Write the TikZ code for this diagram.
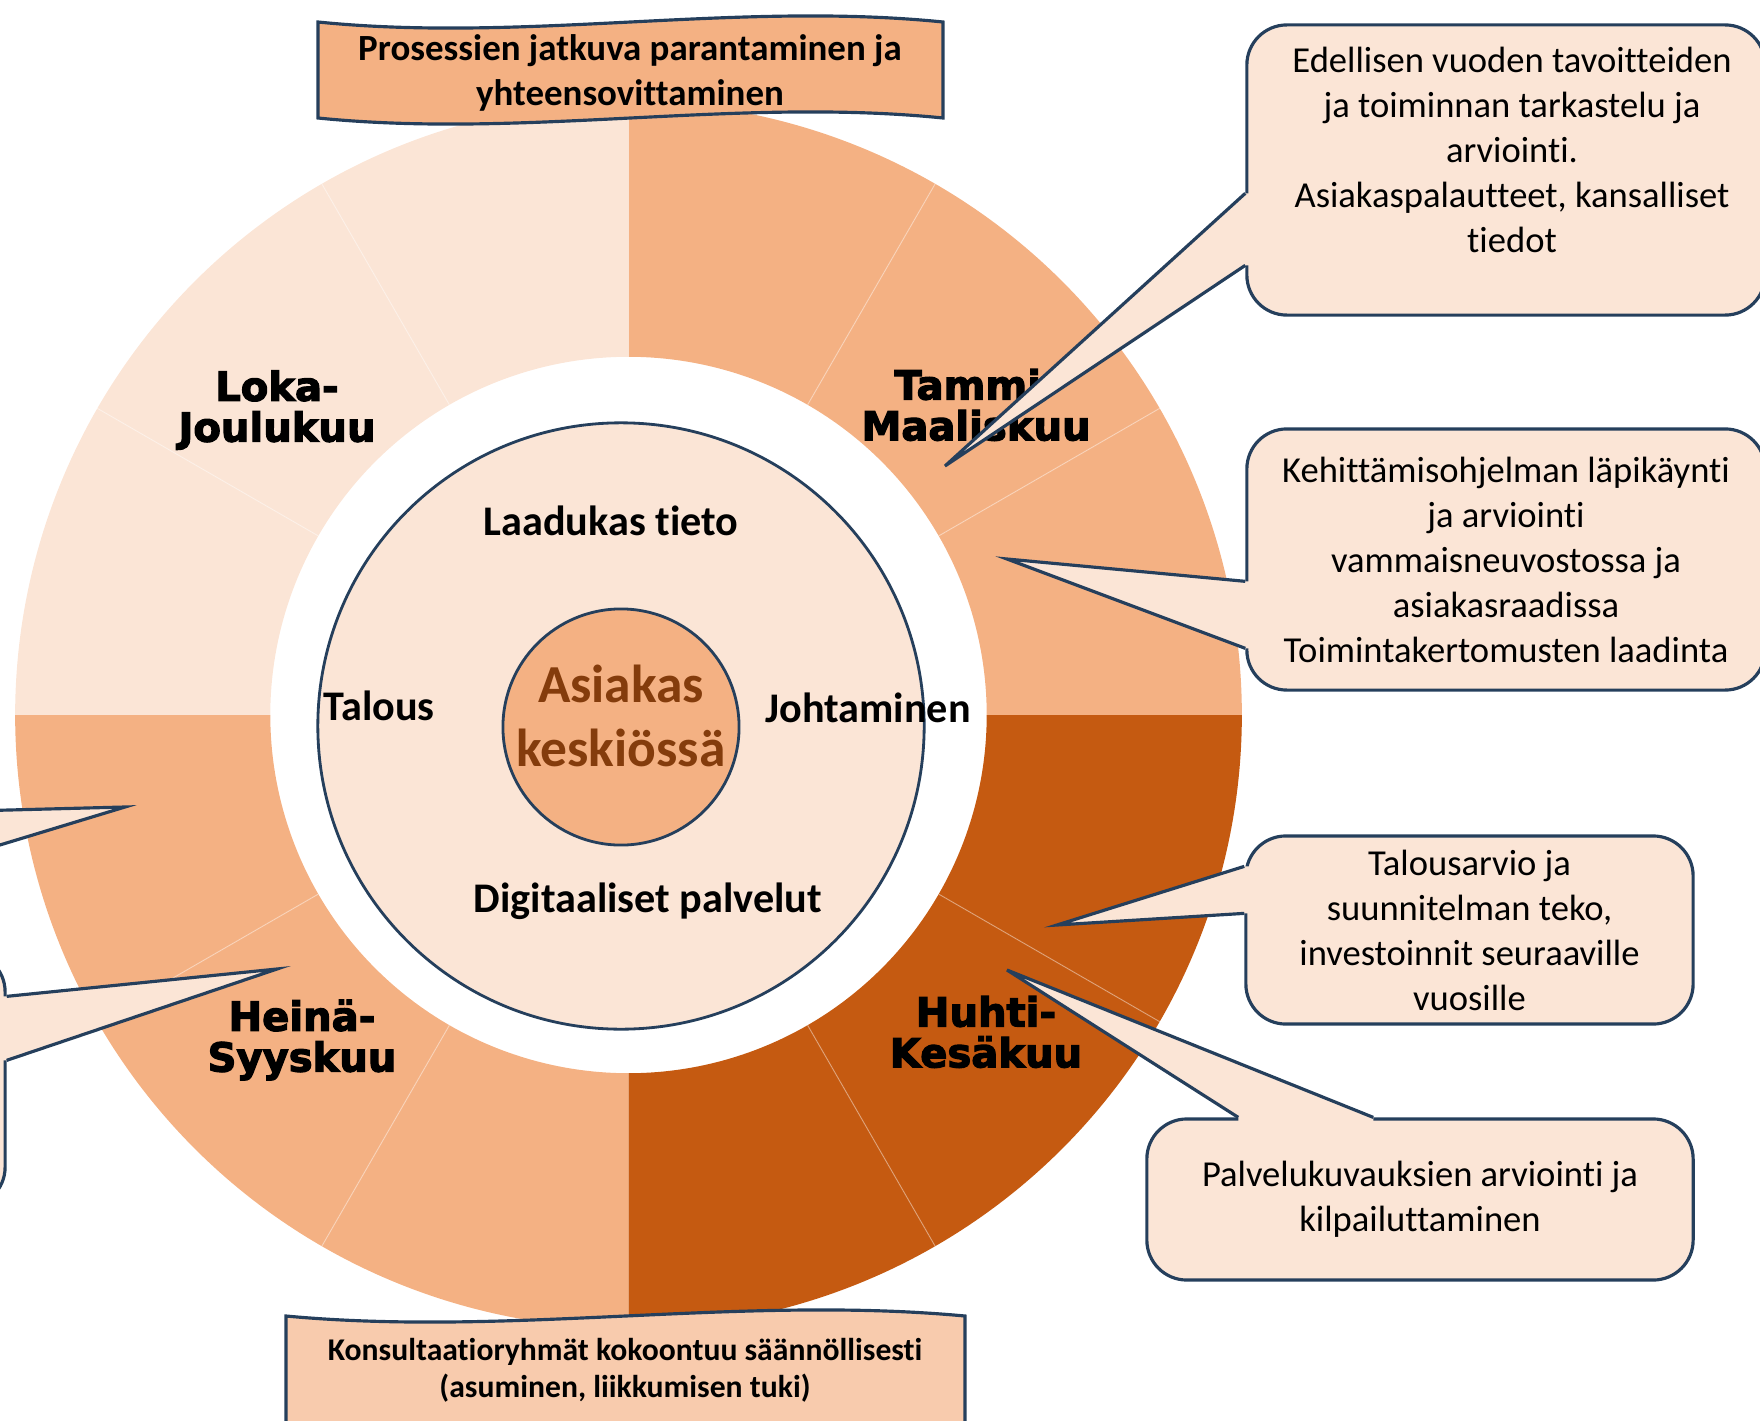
\documentclass[tikz,border=0pt]{standalone}
\usepackage{fontspec}
\setmainfont{Carlito}[Ligatures=NoCommon]
\newfontfamily\monthfont[BoldFeatures={FakeBold=3}]{DejaVu Sans}
\usetikzlibrary{calc}
\usetikzlibrary{positioning}

\definecolor{ringlight}{HTML}{FBE5D6}
\definecolor{ringmid}{HTML}{F4B183}
\definecolor{ringdark}{HTML}{C55A11}
\definecolor{banlight}{HTML}{F8CBAD}
\definecolor{edgeblue}{HTML}{253F5C}
\definecolor{brownt}{HTML}{843C0C}

\begin{document}
\begin{tikzpicture}[x=0.01cm,y=-0.01cm,
  month/.style={font=\monthfont\bfseries\fontsize{11.4}{11.6}\selectfont,align=center},
  inlabel/.style={font=\bfseries\fontsize{12}{14}\selectfont},
  banner/.style={draw=edgeblue,line width=0.9pt},
  callbox/.style={draw=edgeblue,fill=ringlight,line width=0.9pt,rounded corners=0.4cm,inner sep=0,align=center,font=\fontsize{10.4}{12.8}\selectfont},
  pointer/.style={draw=edgeblue,line width=0.9pt}]

  \useasboundingbox (0,0) rectangle (1760,1421);
  \clip (0,0) rectangle (1760,1421);

  % year ring, twelve months
  \coordinate (ctr) at (628.5,715);
  \foreach \a/\col in {0/ringmid,30/ringmid,60/ringmid,90/ringlight,120/ringlight,150/ringlight,
                       180/ringmid,210/ringmid,240/ringmid,270/ringdark,300/ringdark,330/ringdark}
    \fill[\col,shift={(ctr)}] (\a:3.58cm) arc[start angle=\a,end angle=\a+30,radius=3.58cm]
      -- ({\a+30}:6.13cm) arc[start angle=\a+30,end angle=\a,radius=6.13cm] -- cycle;
  \foreach \a in {30,60,120,150,210,240,300,330}
    \draw[white,opacity=0.35,line width=0.3pt,shift={(ctr)}] (\a:3.58cm) -- (\a:6.13cm);

  % inner circles
  \node[circle,draw=edgeblue,fill=ringlight,line width=0.8pt,minimum size=6.06cm,inner sep=0] (inner) at (621,726) {};
  \node[circle,draw=edgeblue,fill=ringmid,line width=0.8pt,minimum size=2.36cm,inner sep=0] (asiakas) at (621,727) {};
  \node[align=center,text=brownt,font=\bfseries\fontsize{15.2}{18}\selectfont] (asiakastext)
    at ([yshift=0.11cm]asiakas.center) {Asiakas\\keskiössä};

  \node[inlabel] (tieto) at (611,521) {Laadukas tieto};
  \node[inlabel] (talous) at (379,706) {Talous};
  \node[inlabel] (johto) at (868,708) {Johtaminen};
  \node[inlabel] (digi) at (648,901) {Digitaaliset palvelut};

  \node[month] (loka) at (277,410) {Loka-\\Joulukuu};
  \node[month] (tammi) at (976,405) {Tammi-\\Maaliskuu};
  \node[month] (huhti) at (986,1032) {Huhti-\\Kesäkuu};
  \node[month] (heina) at (302,1040) {Heinä-\\Syyskuu};

  % banners
  \draw[banner,fill=ringmid] (318,22) .. controls (526,43) and (735,1) .. (943,22)
    -- (943,118) .. controls (735,97) and (526,139) .. (318,118) -- cycle;
  \node[align=center,font=\bfseries\fontsize{10.5}{12.8}\selectfont] (prosessi) at (630,73)
    {Prosessien jatkuva parantaminen ja\\yhteensovittaminen};
  \draw[banner,fill=banlight] (286,1316) .. controls (512,1337) and (739,1295) .. (965,1316)
    -- (965,1450) -- (286,1450) -- cycle;
  \node[align=center,font=\bfseries\fontsize{9}{10.6}\selectfont] (konsult) at (625,1370)
    {Konsultaatioryhmät kokoontuu säännöllisesti\\(asuminen, liikkumisen tuki)};

  % callouts
  \node[callbox,minimum width=5.18cm,minimum height=2.9cm] (edel) at (1506,170) {};
  \node[align=center,font=\fontsize{10.4}{12.8}\selectfont] (edeltext) at ([xshift=0.06cm,yshift=0.2cm]edel.center)
    {Edellisen vuoden tavoitteiden\\ja toiminnan tarkastelu ja\\arviointi.\\Asiakaspalautteet, kansalliset\\tiedot};
  \coordinate (edeltip) at (945,466);
  \fill[ringlight] ($(edel.north west)+(0,170)$) -- (edeltip) -- ($(edel.north west)+(0,242)$) -- ++(6,0)
    -- ($(edel.north west)+(6,170)$) -- cycle;
  \draw[pointer] ($(edel.north west)+(0,170)$) -- (edeltip) -- ($(edel.north west)+(0,242)$);

  \node[callbox,minimum width=5.18cm,minimum height=2.61cm] (kehit) at (1506,559.5)
    {Kehittämisohjelman läpikäynti\\ja arviointi\\vammaisneuvostossa ja\\asiakasraadissa\\Toimintakertomusten laadinta};
  \coordinate (kehittip) at (1007,559);
  \fill[ringlight] ($(kehit.north west)+(0,154)$) -- (kehittip) -- ($(kehit.north west)+(0,221)$) -- ++(6,0)
    -- ($(kehit.north west)+(6,154)$) -- cycle;
  \draw[pointer] ($(kehit.north west)+(0,154)$) -- (kehittip) -- ($(kehit.north west)+(0,221)$);

  \node[callbox,minimum width=4.47cm,minimum height=1.88cm] (arvio) at (1469.5,930)
    {Talousarvio ja\\suunnitelman teko,\\investoinnit seuraaville\\vuosille};
  \coordinate (arviotip) at (1057,925);
  \fill[ringlight] ($(arvio.north west)+(0,32)$) -- (arviotip) -- ($(arvio.north west)+(0,79)$) -- ++(6,0)
    -- ($(arvio.north west)+(6,32)$) -- cycle;
  \draw[pointer] ($(arvio.north west)+(0,32)$) -- (arviotip) -- ($(arvio.north west)+(0,79)$);

  \node[callbox,minimum width=5.46cm,minimum height=1.61cm] (palvelu) at (1420,1199.5)
    {Palvelukuvauksien arviointi ja\\kilpailuttaminen};
  \coordinate (palvelutip) at (1007,970);
  \fill[ringlight] ($(palvelu.north west)+(93,0)$) -- (palvelutip) -- ($(palvelu.north west)+(228,0)$) -- ++(0,6)
    -- ($(palvelu.north west)+(93,6)$) -- cycle;
  \draw[pointer] ($(palvelu.north west)+(93,0)$) -- (palvelutip) -- ($(palvelu.north west)+(228,0)$);

  % left side, cut by the page edge
  \coordinate (ylatip) at (125,807);
  \fill[ringlight] (-10,810.5) -- (ylatip) -- (-10,848) -- cycle;
  \draw[pointer] (-10,810.5) -- (ylatip) -- (-10,848);

  \node[callbox,minimum width=4.05cm,minimum height=2.55cm] (vasen) at (-197.5,1079.5) {};
  \coordinate (vasentip) at (277,969);
  \fill[ringlight] ($(vasen.north east)+(0,46)$) -- (vasentip) -- ($(vasen.north east)+(0,110)$) -- ++(-6,0)
    -- ($(vasen.north east)+(-6,46)$) -- cycle;
  \draw[pointer] ($(vasen.north east)+(0,46)$) -- (vasentip) -- ($(vasen.north east)+(0,110)$);

\end{tikzpicture}
\end{document}
